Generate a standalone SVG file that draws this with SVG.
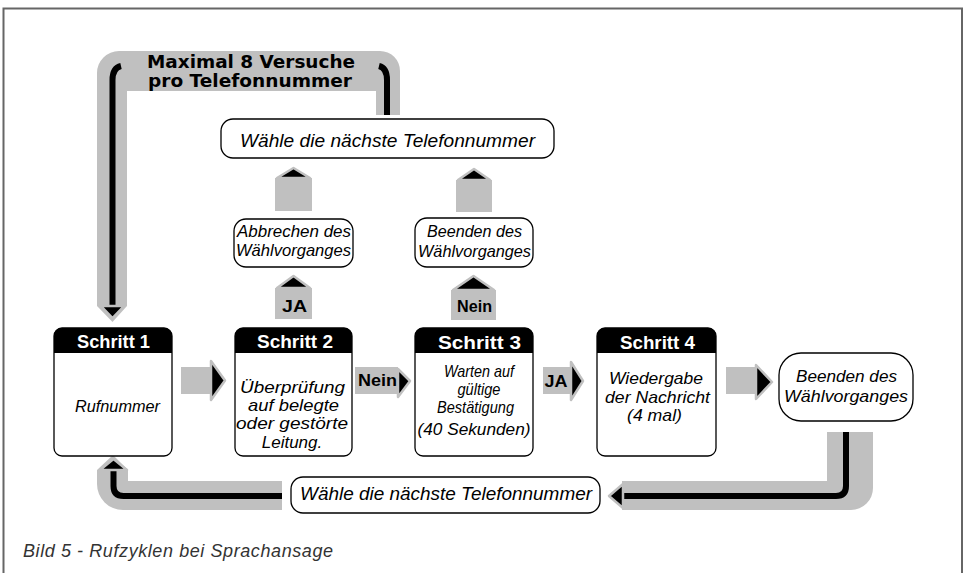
<svg xmlns="http://www.w3.org/2000/svg" width="972" height="573" viewBox="0 0 972 573">
<style>
.band{fill:#c0c0c0}
.ln{fill:none;stroke:#000;stroke-width:6}
.ah{fill:#000;stroke:#c0c0c0;stroke-width:2.5;stroke-linejoin:round}
.box{fill:#fff;stroke:#000;stroke-width:1.3}
.hd{fill:#000}
.ht{font-family:"Liberation Sans",Arial,sans-serif;font-weight:bold;font-size:19px;fill:#fff;text-anchor:middle}
.it{font-family:"Liberation Sans",Arial,sans-serif;font-style:italic;font-size:17px;fill:#000;text-anchor:middle}
.nt{font-family:"Liberation Sans",Arial,sans-serif;font-style:italic;font-size:19px;fill:#000;text-anchor:middle}
.lb{font-family:"Liberation Sans",Arial,sans-serif;font-weight:bold;font-size:17px;fill:#000;text-anchor:middle}
.tt{font-family:"DejaVu Sans",sans-serif;font-weight:bold;font-size:17px;fill:#000;text-anchor:middle}
.cap{font-family:"Liberation Sans",Arial,sans-serif;font-style:italic;font-size:18px;fill:#333}
</style>
<rect width="972" height="573" fill="#fff"/>
<path d="M3.5,573 V8.5 H962 V573" fill="none" stroke="#666" stroke-width="2"/>

<g id="connectors">
  <!-- top loop -->
  <path class="band" d="M112.5,322 L97,306 V73 A22,22 0 0 1 119,51 H380 A20,20 0 0 1 400,71 V115 H376 V91 H127 V306 Z"/>
  <path class="ln" d="M121,66 Q112.5,68 112.5,80 V306"/>
  <polygon class="ah" points="101,306 124,306 112.5,318"/>
  <path class="ln" d="M379,66 Q387,68 387,80 V115"/>
  <text class="tt" x="251" y="68" textLength="208" lengthAdjust="spacingAndGlyphs">Maximal 8 Versuche</text>
  <text class="tt" x="250" y="86.5" textLength="204" lengthAdjust="spacingAndGlyphs">pro Telefonnummer</text>

  <!-- bottom loop -->
  <path class="band" d="M113,455 L128,470 V481 H282 V510 H123 A26,26 0 0 1 97,484 V470 Z"/>
  <path class="ln" d="M113.5,470 V486 Q113.5,496 123.5,496 H282"/>
  <polygon class="ah" points="100,470 127,470 113.5,459"/>
  <path class="band" d="M827,432 H873 V488 A22,22 0 0 1 851,510 H622 V481 H827 Z"/>
  <path class="ln" d="M846,432 V486 Q846,496 836,496 H622"/>
  <polygon class="ah" points="623,484 609,496 623,508"/>

  <!-- horizontal arrows -->
  <rect class="band" x="181" y="367" width="30" height="27"/>
  <polygon class="ah" points="211,361 225,380.5 211,400"/>
  <rect class="band" x="355" y="367" width="43" height="27"/>
  <polygon class="ah" points="398,369 410,381 398,397"/>
  <text class="lb" x="377.5" y="386" textLength="39" lengthAdjust="spacingAndGlyphs">Nein</text>
  <rect class="band" x="543" y="367" width="28" height="27"/>
  <polygon class="ah" points="571,362 583,381 571,400"/>
  <text class="lb" x="556" y="387" textLength="23" lengthAdjust="spacingAndGlyphs">JA</text>
  <rect class="band" x="726" y="367" width="30" height="27"/>
  <polygon class="ah" points="756,365 772,382 756,399"/>

  <!-- vertical arrows -->
  <rect class="band" x="275" y="178" width="37" height="33"/>
  <polygon class="ah" points="277,178 293.5,168 310,178"/>
  <rect class="band" x="275" y="288" width="37" height="31"/>
  <polygon class="ah" points="277,288 293.5,276 310,288"/>
  <text class="lb" x="294.5" y="312" textLength="25" lengthAdjust="spacingAndGlyphs">JA</text>
  <rect class="band" x="456" y="180" width="36" height="32"/>
  <polygon class="ah" points="458,180 474,169 490,180"/>
  <rect class="band" x="451" y="290" width="45" height="30"/>
  <polygon class="ah" points="453,290 473.5,276 494,290"/>
  <text class="lb" x="474.5" y="312" textLength="35" lengthAdjust="spacingAndGlyphs">Nein</text>
</g>

<g id="next-top">
  <rect class="box" x="221" y="119" width="333" height="39" rx="12"/>
  <text class="nt" x="387.5" y="147" textLength="295" lengthAdjust="spacingAndGlyphs">Wähle die nächste Telefonnummer</text>
</g>

<g id="abbrechen">
  <rect class="box" x="234" y="219" width="119" height="48" rx="12"/>
  <text class="it" font-size="16" x="294" y="237" textLength="114" lengthAdjust="spacingAndGlyphs">Abbrechen des</text>
  <text class="it" font-size="16" x="293.5" y="256" textLength="115" lengthAdjust="spacingAndGlyphs">Wählvorganges</text>
</g>

<g id="beenden-mid">
  <rect class="box" x="415" y="218" width="118" height="49" rx="12"/>
  <text class="it" font-size="16" x="474.5" y="237" textLength="95" lengthAdjust="spacingAndGlyphs">Beenden des</text>
  <text class="it" font-size="16" x="474.5" y="257" textLength="113" lengthAdjust="spacingAndGlyphs">Wählvorganges</text>
</g>

<g id="schritt1">
  <rect class="box" x="54" y="328" width="118" height="128" rx="8"/>
  <path class="hd" d="M54,353 V336 A8,8 0 0 1 62,328 H164 A8,8 0 0 1 172,336 V353 Z"/>
  <text class="ht" x="113.5" y="348" textLength="73" lengthAdjust="spacingAndGlyphs">Schritt 1</text>
  <text class="it" x="117.5" y="412" textLength="85" lengthAdjust="spacingAndGlyphs">Rufnummer</text>
</g>

<g id="schritt2">
  <rect class="box" x="235" y="328" width="117" height="128" rx="8"/>
  <path class="hd" d="M235,353 V336 A8,8 0 0 1 243,328 H344 A8,8 0 0 1 352,336 V353 Z"/>
  <text class="ht" x="295" y="348" textLength="76" lengthAdjust="spacingAndGlyphs">Schritt 2</text>
  <text class="it" font-size="17" x="292.5" y="393" textLength="105" lengthAdjust="spacingAndGlyphs">Überprüfung</text>
  <text class="it" font-size="17" x="293.5" y="411" textLength="91" lengthAdjust="spacingAndGlyphs">auf belegte</text>
  <text class="it" font-size="17" x="292" y="429" textLength="112" lengthAdjust="spacingAndGlyphs">oder gestörte</text>
  <text class="it" font-size="17" x="292" y="448">Leitung.</text>
</g>

<g id="schritt3">
  <rect class="box" x="415" y="328" width="118" height="128" rx="8"/>
  <path class="hd" d="M415,353 V336 A8,8 0 0 1 423,328 H525 A8,8 0 0 1 533,336 V353 Z"/>
  <text class="ht" x="479.5" y="349" textLength="83" lengthAdjust="spacingAndGlyphs">Schritt 3</text>
  <text class="it" font-size="14" x="479" y="377" textLength="70" lengthAdjust="spacingAndGlyphs">Warten auf</text>
  <text class="it" font-size="14" x="479" y="395" textLength="43" lengthAdjust="spacingAndGlyphs">gültige</text>
  <text class="it" font-size="14" x="475.5" y="413" textLength="77" lengthAdjust="spacingAndGlyphs">Bestätigung</text>
  <text class="it" x="474" y="435" textLength="113" lengthAdjust="spacingAndGlyphs">(40 Sekunden)</text>
</g>

<g id="schritt4">
  <rect class="box" x="597" y="328" width="119" height="128" rx="8"/>
  <path class="hd" d="M597,353 V336 A8,8 0 0 1 605,328 H708 A8,8 0 0 1 716,336 V353 Z"/>
  <text class="ht" x="657.5" y="349" textLength="75" lengthAdjust="spacingAndGlyphs">Schritt 4</text>
  <text class="it" font-size="15" x="656" y="384" textLength="94" lengthAdjust="spacingAndGlyphs">Wiedergabe</text>
  <text class="it" font-size="15" x="657.5" y="402.5" textLength="105" lengthAdjust="spacingAndGlyphs">der Nachricht</text>
  <text class="it" font-size="15" x="654.5" y="421" textLength="55" lengthAdjust="spacingAndGlyphs">(4 mal)</text>
</g>

<g id="beenden-end">
  <rect class="box" x="779" y="353" width="134" height="68" rx="22"/>
  <text class="it" x="846.5" y="382" textLength="101" lengthAdjust="spacingAndGlyphs">Beenden des</text>
  <text class="it" x="846" y="402" textLength="124" lengthAdjust="spacingAndGlyphs">Wählvorganges</text>
</g>

<g id="next-bottom">
  <rect class="box" x="291" y="477" width="309" height="36" rx="12"/>
  <text class="nt" x="446" y="500" textLength="292" lengthAdjust="spacingAndGlyphs">Wähle die nächste Telefonnummer</text>
</g>

<text class="cap" x="23" y="557" textLength="310" lengthAdjust="spacing">Bild 5 - Rufzyklen bei Sprachansage</text>
</svg>
